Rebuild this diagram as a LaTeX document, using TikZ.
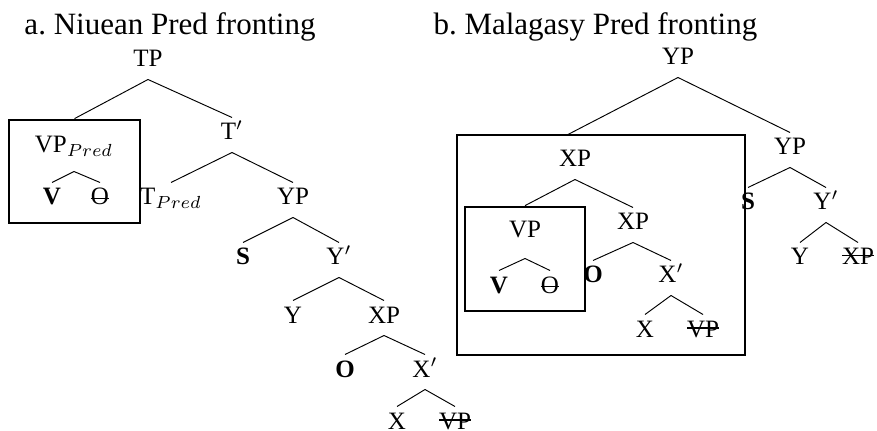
\documentclass[tikz,border=0pt]{standalone}
\usepackage{fontspec}
\setmainfont{Liberation Serif}
\usepackage{tikz}
\usetikzlibrary{positioning}
\frenchspacing
\newsavebox{\strikebox}
\newcommand{\struck}[2][0.34em]{\sbox{\strikebox}{#2}%
  \rlap{\rule[#1]{\wd\strikebox}{0.64pt}}\usebox{\strikebox}}

\begin{document}
\begin{tikzpicture}[x=0.4pt,y=-0.4pt,
    lbl/.style={anchor=base,inner xsep=0pt,inner ysep=2pt,
                text height=6.8pt,text depth=2.8pt,
                font=\fontsize{10}{12}\selectfont},
    ttl/.style={anchor=base west,inner sep=0pt,
                font=\fontsize{12.4}{15}\selectfont},
    frame/.style={draw,line width=1.1pt,inner sep=0pt},
    branch/.style={line width=0.38pt}]
        \useasboundingbox (0,0) rectangle (877,431);

        % a. Niuean
        \node[ttl] (titlea) at (24,35) {a. Niuean Pred fronting};
        \node[lbl] (tpa) at (148,67) {TP};
        \node[frame,minimum width=52.4pt,minimum height=41.2pt]
          (boxa) at (74.5,171.5) {};
        \node[lbl,text depth=5.2pt] (vppa) at (74,153) {VP$_{Pred}$};
        \node[lbl] (va) at (52,205) {\textbf{V}};
        \node[lbl] (oa) at (100,205) {\struck[0.22em]{O}};
        \node[lbl] (tbara) at (232,140) {T$'$};
        \node[lbl] (tpreda) at (171,205) {T$_{Pred}$};
        \node[lbl] (ypa) at (293,205) {YP};
        \node[lbl] (sa) at (243,265) {\textbf{S}};
        \node[lbl] (ybara) at (339,265) {Y$'$};
        \node[lbl] (ya) at (293,323) {Y};
        \node[lbl] (xpa) at (384,323) {XP};
        \node[lbl] (oba) at (345,377) {\textbf{O}};
        \node[lbl] (xbara) at (425,377) {X$'$};
        \node[lbl] (xa) at (397,429) {X};
        \node[lbl] (vpsa) at (455,429) {\struck{VP}};

        \draw[branch] (tpa.south) -- (boxa.north);
        \draw[branch] (tpa.south) -- (tbara.north);
        \draw[branch] (vppa.south) -- (va.north);
        \draw[branch] (vppa.south) -- (oa.north);
        \draw[branch] (tbara.south) -- (tpreda.north);
        \draw[branch] (tbara.south) -- (ypa.north);
        \draw[branch] (ypa.south) -- (sa.north);
        \draw[branch] (ypa.south) -- (ybara.north);
        \draw[branch] (ybara.south) -- (ya.north);
        \draw[branch] (ybara.south) -- (xpa.north);
        \draw[branch] (xpa.south) -- (oba.north);
        \draw[branch] (xpa.south) -- (xbara.north);
        \draw[branch] (xbara.south) -- (xa.north);
        \draw[branch] (xbara.south) -- (vpsa.north);

        % b. Malagasy
        \node[ttl] (titleb) at (433,35) {b. Malagasy Pred fronting};
        \node[lbl] (ypb) at (678,65) {YP};
        \node[frame,minimum width=115.2pt,minimum height=88pt]
          (boxb) at (601,245) {};
        \coordinate (boxbtop) at (567,135);
        \node[lbl] (xpb) at (575,167) {XP};
        \node[frame,minimum width=48pt,minimum height=41.6pt]
          (boxc) at (525,259) {};
        \node[lbl,text depth=6pt] (vpb) at (525,238) {VP};
        \node[lbl] (vb) at (499,293) {\textbf{V}};
        \node[lbl] (ob) at (550,293) {\struck[0.22em]{O}};
        \node[lbl] (xpbb) at (633,230) {XP};
        \node[lbl] (obb) at (593,283) {\textbf{O}};
        \node[lbl] (xbarb) at (671,283) {X$'$};
        \node[lbl] (xb) at (645,337) {X};
        \node[lbl] (vpsb) at (703,337) {\struck{VP}};
        \node[lbl] (ypbb) at (790,155) {YP};
        \node[lbl] (sb) at (748,210) {\textbf{S}};
        \node[lbl] (ybarb) at (826,210) {Y$'$};
        \node[lbl] (yb) at (800,265) {Y};
        \node[lbl] (xpsb) at (858,265) {\struck{XP}};

        \draw[branch] (ypb.south) -- (boxbtop);
        \draw[branch] (ypb.south) -- (ypbb.north);
        \draw[branch] (xpb.south) -- (boxc.north);
        \draw[branch] (xpb.south) -- (xpbb.north);
        \draw[branch] (vpb.south) -- (vb.north);
        \draw[branch] (vpb.south) -- (ob.north);
        \draw[branch] (xpbb.south) -- (obb.north);
        \draw[branch] (xpbb.south) -- (xbarb.north);
        \draw[branch] (xbarb.south) -- (xb.north);
        \draw[branch] (xbarb.south) -- (vpsb.north);
        \draw[branch] (ypbb.south) -- (sb.north);
        \draw[branch] (ypbb.south) -- (ybarb.north);
        \draw[branch] (ybarb.south) -- (yb.north);
        \draw[branch] (ybarb.south) -- (xpsb.north);
\end{tikzpicture}
\end{document}
